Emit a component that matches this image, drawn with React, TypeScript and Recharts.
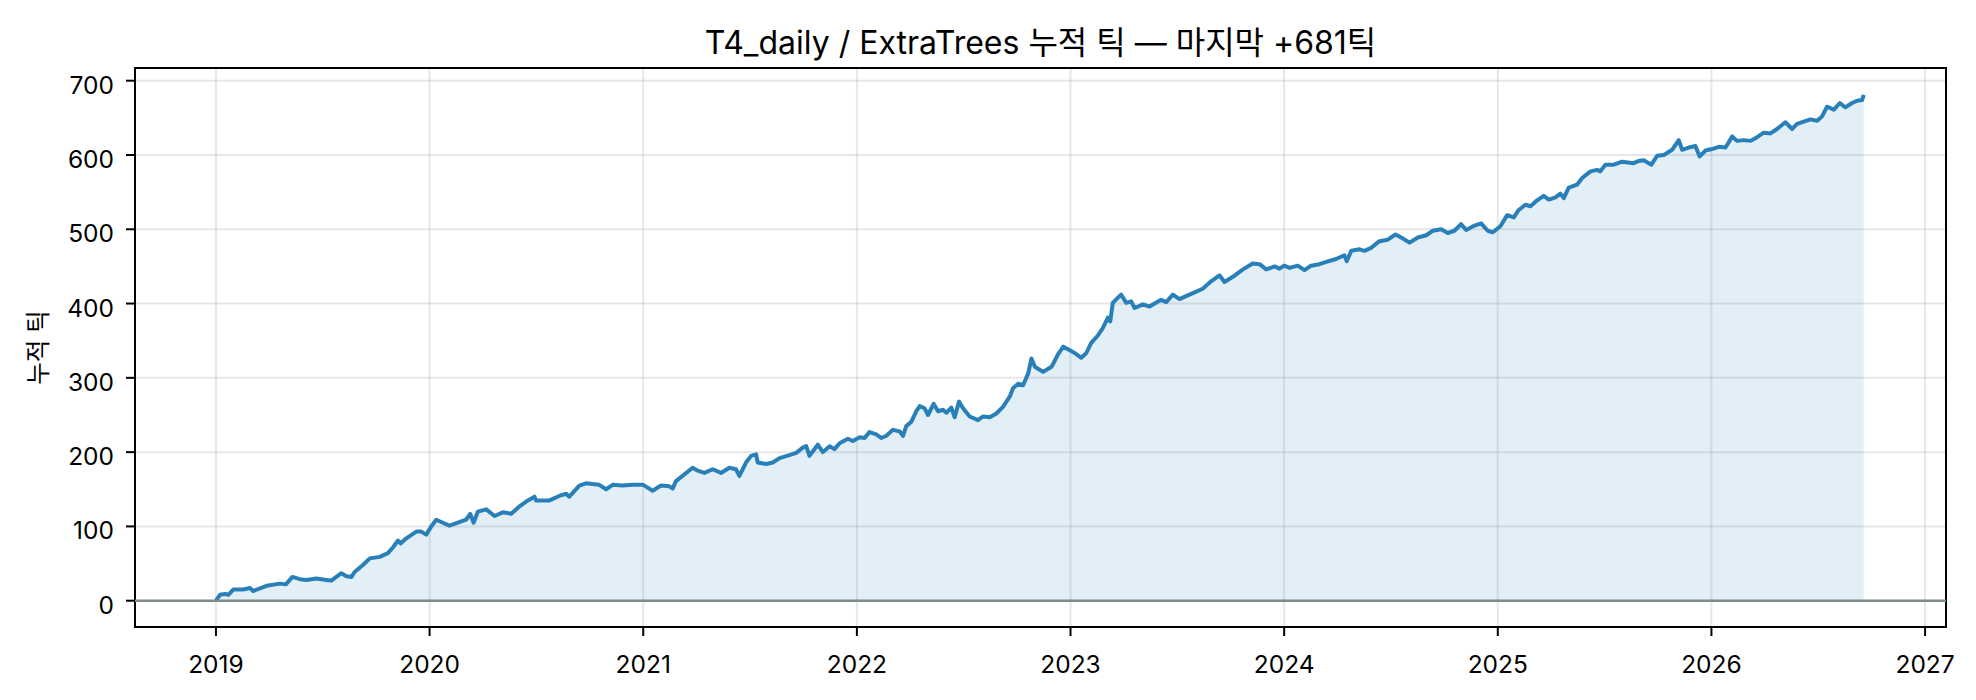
import React from 'react'
import {
  ComposedChart, Area, XAxis, YAxis, CartesianGrid,
  ReferenceLine, ReferenceArea,
} from 'recharts'

const W = 1976
const H = 700
const FONT = 'Inter, "Noto Sans CJK KR", sans-serif'

const TITLE = 'T4_daily / ExtraTrees 누적 틱 — 마지막 +681틱'
const Y_LABEL = '누적 틱'

const YEAR_TICKS = [2019, 2020, 2021, 2022, 2023, 2024, 2025, 2026, 2027]
const VALUE_TICKS = [0, 100, 200, 300, 400, 500, 600, 700]
const X_DOMAIN = [2018.621, 2027.098]
const Y_DOMAIN = [-35.4, 717.1]

// 날짜(연 단위 소수) — 그림에서 읽은 값
const dates = [
  2019.000, 2019.019, 2019.042, 2019.058, 2019.081, 2019.128, 2019.159, 2019.174, 2019.237, 2019.299,
  2019.327, 2019.358, 2019.393, 2019.424, 2019.470, 2019.517, 2019.540, 2019.587, 2019.611, 2019.634,
  2019.650, 2019.688, 2019.720, 2019.766, 2019.805, 2019.829, 2019.852, 2019.864, 2019.891, 2019.938,
  2019.961, 2019.984, 2020.008, 2020.031, 2020.062, 2020.093, 2020.132, 2020.171, 2020.190, 2020.206,
  2020.226, 2020.265, 2020.304, 2020.343, 2020.382, 2020.421, 2020.460, 2020.491, 2020.498, 2020.561,
  2020.607, 2020.639, 2020.654, 2020.701, 2020.732, 2020.794, 2020.826, 2020.857, 2020.903, 2020.950,
  2021.000, 2021.044, 2021.083, 2021.122, 2021.138, 2021.153, 2021.184, 2021.231, 2021.255, 2021.286,
  2021.325, 2021.364, 2021.403, 2021.434, 2021.450, 2021.481, 2021.505, 2021.528, 2021.536, 2021.575,
  2021.606, 2021.638, 2021.684, 2021.716, 2021.747, 2021.763, 2021.778, 2021.817, 2021.841, 2021.872,
  2021.895, 2021.919, 2021.958, 2021.981, 2022.013, 2022.036, 2022.059, 2022.091, 2022.114, 2022.138,
  2022.169, 2022.200, 2022.216, 2022.231, 2022.255, 2022.278, 2022.294, 2022.317, 2022.333, 2022.359,
  2022.380, 2022.403, 2022.419, 2022.442, 2022.458, 2022.478, 2022.497, 2022.528, 2022.567, 2022.591,
  2022.622, 2022.653, 2022.684, 2022.716, 2022.731, 2022.755, 2022.778, 2022.802, 2022.817, 2022.833,
  2022.872, 2022.911, 2022.919, 2022.942, 2022.966, 2022.997,
  2023.027, 2023.050, 2023.073, 2023.097, 2023.128, 2023.151, 2023.175, 2023.186, 2023.198, 2023.222,
  2023.237, 2023.261, 2023.284, 2023.300, 2023.339, 2023.370, 2023.424, 2023.448, 2023.479, 2023.510,
  2023.541, 2023.573, 2023.619, 2023.658, 2023.697, 2023.721, 2023.760, 2023.807, 2023.853, 2023.885,
  2023.916, 2023.955, 2023.978, 2024.000, 2024.025, 2024.064, 2024.095, 2024.126, 2024.165, 2024.197,
  2024.243, 2024.282, 2024.293, 2024.314, 2024.353, 2024.376, 2024.407, 2024.446, 2024.485, 2024.521,
  2024.548, 2024.587, 2024.626, 2024.665, 2024.696, 2024.735, 2024.766, 2024.797, 2024.828, 2024.852,
  2024.891, 2024.922, 2024.953, 2024.977,
  2025.012, 2025.044, 2025.075, 2025.098, 2025.129, 2025.153, 2025.184, 2025.215, 2025.239, 2025.270,
  2025.293, 2025.309, 2025.332, 2025.371, 2025.395, 2025.434, 2025.465, 2025.480, 2025.504, 2025.543,
  2025.582, 2025.636, 2025.660, 2025.683, 2025.719, 2025.746, 2025.777, 2025.816, 2025.847, 2025.863,
  2025.894, 2025.925, 2025.945, 2025.972, 2026.003, 2026.034, 2026.066, 2026.097, 2026.120, 2026.151,
  2026.183, 2026.214, 2026.245, 2026.276, 2026.307, 2026.346, 2026.378, 2026.401, 2026.432, 2026.463,
  2026.495, 2026.518, 2026.541, 2026.573, 2026.601, 2026.627, 2026.658, 2026.682, 2026.705, 2026.713,
]

// 누적 틱
const cumTicks = [
  0, 8, 9, 8, 15, 15, 17, 13, 20, 23,
  22, 32, 29, 28, 30, 28, 27, 37, 33, 32,
  39, 48, 57, 59, 64, 72, 81, 77, 84, 93,
  93, 89, 100, 109, 105, 101, 105, 109, 117, 105,
  120, 123, 114, 119, 117, 127, 135, 140, 135, 135,
  141, 144, 140, 155, 158, 156, 150, 156, 155, 156,
  156, 148, 155, 154, 151, 161, 168, 179, 175, 172,
  177, 172, 179, 177, 168, 186, 195, 197, 186, 184,
  186, 192, 196, 199, 206, 208, 195, 210, 200, 208,
  204, 212, 218, 215, 220, 219, 227, 224, 219, 222,
  230, 228, 222, 235, 241, 255, 262, 259, 250, 265,
  255, 257, 253, 260, 247, 268, 259, 248, 243, 248,
  247, 252, 261, 275, 286, 292, 290, 306, 326, 315,
  308, 315, 319, 332, 342, 337,
  332, 327, 333, 347, 357, 367, 381, 376, 401, 408,
  412, 401, 403, 394, 399, 396, 405, 402, 412, 406,
  410, 414, 420, 430, 438, 429, 436, 446, 454, 453,
  446, 450, 447, 451, 448, 451, 445, 451, 453, 456,
  460, 465, 457, 471, 473, 471, 475, 484, 486, 493,
  489, 482, 489, 492, 498, 500, 495, 498, 507, 499,
  505, 508, 498, 496,
  504, 519, 516, 526, 533, 531, 539, 545, 540, 543,
  548, 542, 556, 560, 569, 578, 580, 578, 587, 587,
  591, 589, 592, 593, 587, 599, 600, 607, 620, 607,
  610, 612, 598, 606, 608, 611, 610, 625, 619, 620,
  619, 624, 630, 629, 635, 644, 635, 642, 645, 648,
  646, 652, 665, 661, 670, 664, 670, 673, 674, 681,
]

const data = dates.map((t, i) => ({ t, v: cumTicks[i] }))

function XTick({ x, y, payload }: any) {
  return (
    <text x={x} y={y + 36.7} textAnchor="middle" fontSize={24.5} fontFamily={FONT} fill="#000">
      {payload.value}
    </text>
  )
}

function YTick({ x, y, payload }: any) {
  return (
    <text x={x} y={y + 13} textAnchor="end" fontSize={24.5} fontFamily={FONT} fill="#000">
      {payload.value}
    </text>
  )
}

export default function App() {
  return (
    <div style={{ position: 'absolute', left: 0, top: 0, width: W, height: H, background: '#fff' }}>
      <ComposedChart width={W} height={H} data={data}
        margin={{ top: 68, right: 30, left: 0, bottom: 0 }}>
        <CartesianGrid stroke="#b0b0b0" strokeOpacity={0.3} strokeWidth={2} />
        <XAxis dataKey="t" type="number" domain={X_DOMAIN} ticks={YEAR_TICKS}
          allowDataOverflow interval={0} height={73}
          axisLine={false} tickLine={{ stroke: '#000', strokeWidth: 2 }}
          tickSize={9} tickMargin={0} tick={<XTick />} />
        <YAxis type="number" domain={Y_DOMAIN} ticks={VALUE_TICKS}
          allowDataOverflow interval={0} width={135}
          axisLine={false} tickLine={{ stroke: '#000', strokeWidth: 2 }}
          tickSize={9} tickMargin={12} tick={<YTick />} />
        <Area type="linear" dataKey="v" baseValue={0}
          stroke="#2980b9" strokeWidth={4} strokeLinejoin="round" fill="#2980b9" fillOpacity={0.13}
          dot={false} activeDot={false} isAnimationActive={false} />
        <ReferenceLine y={0} stroke="#7f8c8d" strokeWidth={2.5} />
        <ReferenceArea x1={X_DOMAIN[0]} x2={X_DOMAIN[1]} y1={Y_DOMAIN[0]} y2={Y_DOMAIN[1]}
          fill="none" stroke="#000" strokeWidth={2} ifOverflow="visible" />
      </ComposedChart>
      <svg width={W} height={H} style={{ position: 'absolute', left: 0, top: 0, pointerEvents: 'none' }}>
        <text x={1040.5} y={53.5} textAnchor="middle" fontSize={32} fontFamily={FONT} fill="#000">
          {TITLE}
        </text>
        <text x={47} y={347.5} textAnchor="middle" fontSize={24.5} fontFamily={FONT} fill="#000"
          transform="rotate(-90 47 347.5)">
          {Y_LABEL}
        </text>
      </svg>
    </div>
  )
}
